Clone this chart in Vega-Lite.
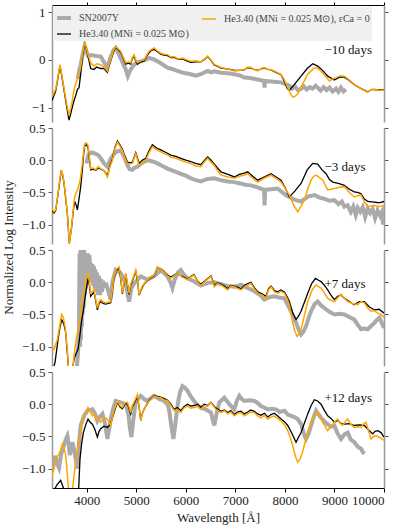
{
"$schema":"https://vega.github.io/schema/vega-lite/v6.json",
"padding":{"left":2,"top":1,"right":0,"bottom":4},
"config":{"font":"Liberation Serif","view":{"stroke":null},"axis":{"labelFontSize":13,"titleFontSize":13,"titleFontWeight":"normal","labelColor":"#222","titleColor":"#222","grid":false,"labelFont":"Liberation Serif","titleFont":"Liberation Serif"},"legend":{"labelFont":"Liberation Serif"}},
"datasets":{
"labels":[{"p":1,"w":8800,"v":0.21,"t":"−10 days"},{"p":2,"w":8800,"v":-0.11,"t":"−3 days"},{"p":3,"w":8800,"v":-0.02,"t":"+7 days"},{"p":4,"w":8800,"v":0.09,"t":"+12 days"}],
"spec":[
{"p":1,"s":"o","w":3300,"v":-0.78},{"p":1,"s":"o","w":3374,"v":-0.61},{"p":1,"s":"o","w":3420,"v":-0.35},{"p":1,"s":"o","w":3461,"v":-0.1},{"p":1,"s":"o","w":3508,"v":-0.37},{"p":1,"s":"o","w":3560,"v":-0.7},{"p":1,"s":"o","w":3596,"v":-0.92},{"p":1,"s":"o","w":3643,"v":-1.16},{"p":1,"s":"o","w":3680,"v":-1.0},{"p":1,"s":"o","w":3710,"v":-0.85},{"p":1,"s":"o","w":3745,"v":-0.62},{"p":1,"s":"o","w":3778,"v":-0.51},{"p":1,"s":"o","w":3830,"v":-0.35},{"p":1,"s":"o","w":3879,"v":-0.16},{"p":1,"s":"o","w":3920,"v":0.15},{"p":1,"s":"o","w":3960,"v":0.35},{"p":1,"s":"o","w":3990,"v":0.28},{"p":1,"s":"o","w":4027,"v":0.11},{"p":1,"s":"o","w":4081,"v":-0.06},{"p":1,"s":"o","w":4148,"v":-0.13},{"p":1,"s":"o","w":4200,"v":-0.08},{"p":1,"s":"o","w":4283,"v":-0.1},{"p":1,"s":"o","w":4350,"v":-0.15},{"p":1,"s":"o","w":4418,"v":-0.23},{"p":1,"s":"o","w":4450,"v":-0.1},{"p":1,"s":"o","w":4485,"v":0.0},{"p":1,"s":"o","w":4540,"v":0.2},{"p":1,"s":"o","w":4586,"v":0.28},{"p":1,"s":"o","w":4630,"v":0.24},{"p":1,"s":"o","w":4687,"v":0.18},{"p":1,"s":"o","w":4740,"v":0.05},{"p":1,"s":"o","w":4788,"v":-0.06},{"p":1,"s":"o","w":4840,"v":-0.04},{"p":1,"s":"o","w":4889,"v":-0.06},{"p":1,"s":"o","w":4920,"v":0.05},{"p":1,"s":"o","w":4956,"v":0.11},{"p":1,"s":"o","w":4990,"v":0.0},{"p":1,"s":"o","w":5024,"v":-0.06},{"p":1,"s":"o","w":5090,"v":-0.02},{"p":1,"s":"o","w":5158,"v":0.0},{"p":1,"s":"o","w":5210,"v":0.1},{"p":1,"s":"o","w":5259,"v":0.18},{"p":1,"s":"o","w":5310,"v":0.22},{"p":1,"s":"o","w":5360,"v":0.25},{"p":1,"s":"o","w":5430,"v":0.19},{"p":1,"s":"o","w":5495,"v":0.14},{"p":1,"s":"o","w":5560,"v":0.12},{"p":1,"s":"o","w":5630,"v":0.11},{"p":1,"s":"o","w":5700,"v":0.06},{"p":1,"s":"o","w":5764,"v":0.07},{"p":1,"s":"o","w":5850,"v":0.02},{"p":1,"s":"o","w":5933,"v":0.04},{"p":1,"s":"o","w":6020,"v":0.0},{"p":1,"s":"o","w":6101,"v":-0.03},{"p":1,"s":"o","w":6200,"v":-0.02},{"p":1,"s":"o","w":6303,"v":-0.04},{"p":1,"s":"o","w":6380,"v":0.02},{"p":1,"s":"o","w":6441,"v":0.08},{"p":1,"s":"o","w":6510,"v":0.0},{"p":1,"s":"o","w":6576,"v":-0.1},{"p":1,"s":"o","w":6640,"v":-0.12},{"p":1,"s":"o","w":6711,"v":-0.16},{"p":1,"s":"o","w":6850,"v":-0.19},{"p":1,"s":"o","w":6980,"v":-0.23},{"p":1,"s":"o","w":7080,"v":-0.22},{"p":1,"s":"o","w":7182,"v":-0.2},{"p":1,"s":"o","w":7250,"v":-0.15},{"p":1,"s":"o","w":7316,"v":-0.16},{"p":1,"s":"o","w":7380,"v":-0.2},{"p":1,"s":"o","w":7451,"v":-0.23},{"p":1,"s":"o","w":7520,"v":-0.18},{"p":1,"s":"o","w":7585,"v":-0.16},{"p":1,"s":"o","w":7650,"v":-0.2},{"p":1,"s":"o","w":7720,"v":-0.2},{"p":1,"s":"o","w":7820,"v":-0.25},{"p":1,"s":"o","w":7922,"v":-0.3},{"p":1,"s":"o","w":7990,"v":-0.42},{"p":1,"s":"o","w":8057,"v":-0.58},{"p":1,"s":"o","w":8110,"v":-0.7},{"p":1,"s":"o","w":8158,"v":-0.78},{"p":1,"s":"o","w":8210,"v":-0.76},{"p":1,"s":"o","w":8258,"v":-0.71},{"p":1,"s":"o","w":8320,"v":-0.58},{"p":1,"s":"o","w":8393,"v":-0.44},{"p":1,"s":"o","w":8460,"v":-0.3},{"p":1,"s":"o","w":8528,"v":-0.23},{"p":1,"s":"o","w":8580,"v":-0.18},{"p":1,"s":"o","w":8629,"v":-0.16},{"p":1,"s":"o","w":8680,"v":-0.2},{"p":1,"s":"o","w":8730,"v":-0.23},{"p":1,"s":"o","w":8810,"v":-0.33},{"p":1,"s":"o","w":8898,"v":-0.44},{"p":1,"s":"o","w":8960,"v":-0.4},{"p":1,"s":"o","w":9032,"v":-0.37},{"p":1,"s":"o","w":9120,"v":-0.33},{"p":1,"s":"o","w":9200,"v":-0.34},{"p":1,"s":"o","w":9300,"v":-0.42},{"p":1,"s":"o","w":9402,"v":-0.51},{"p":1,"s":"o","w":9540,"v":-0.6},{"p":1,"s":"o","w":9671,"v":-0.68},{"p":1,"s":"o","w":9740,"v":-0.62},{"p":1,"s":"o","w":9806,"v":-0.61},{"p":1,"s":"o","w":9900,"v":-0.64},{"p":1,"s":"o","w":10000,"v":-0.63},
{"p":1,"s":"b","w":3300,"v":-0.85},{"p":1,"s":"b","w":3374,"v":-0.65},{"p":1,"s":"b","w":3420,"v":-0.38},{"p":1,"s":"b","w":3461,"v":-0.12},{"p":1,"s":"b","w":3508,"v":-0.4},{"p":1,"s":"b","w":3560,"v":-0.75},{"p":1,"s":"b","w":3596,"v":-0.98},{"p":1,"s":"b","w":3643,"v":-1.26},{"p":1,"s":"b","w":3680,"v":-1.12},{"p":1,"s":"b","w":3710,"v":-0.99},{"p":1,"s":"b","w":3745,"v":-0.85},{"p":1,"s":"b","w":3778,"v":-0.75},{"p":1,"s":"b","w":3812,"v":-0.62},{"p":1,"s":"b","w":3845,"v":-0.58},{"p":1,"s":"b","w":3879,"v":-0.3},{"p":1,"s":"b","w":3920,"v":0.1},{"p":1,"s":"b","w":3960,"v":0.33},{"p":1,"s":"b","w":3990,"v":0.25},{"p":1,"s":"b","w":4027,"v":0.08},{"p":1,"s":"b","w":4081,"v":-0.18},{"p":1,"s":"b","w":4148,"v":-0.2},{"p":1,"s":"b","w":4200,"v":-0.15},{"p":1,"s":"b","w":4283,"v":-0.18},{"p":1,"s":"b","w":4350,"v":-0.18},{"p":1,"s":"b","w":4418,"v":-0.26},{"p":1,"s":"b","w":4450,"v":-0.12},{"p":1,"s":"b","w":4485,"v":-0.02},{"p":1,"s":"b","w":4540,"v":0.18},{"p":1,"s":"b","w":4586,"v":0.27},{"p":1,"s":"b","w":4630,"v":0.22},{"p":1,"s":"b","w":4687,"v":0.16},{"p":1,"s":"b","w":4740,"v":0.03},{"p":1,"s":"b","w":4788,"v":-0.09},{"p":1,"s":"b","w":4840,"v":-0.07},{"p":1,"s":"b","w":4889,"v":-0.09},{"p":1,"s":"b","w":4920,"v":0.03},{"p":1,"s":"b","w":4956,"v":0.08},{"p":1,"s":"b","w":4990,"v":-0.02},{"p":1,"s":"b","w":5024,"v":-0.09},{"p":1,"s":"b","w":5090,"v":-0.04},{"p":1,"s":"b","w":5158,"v":-0.02},{"p":1,"s":"b","w":5210,"v":0.08},{"p":1,"s":"b","w":5259,"v":0.15},{"p":1,"s":"b","w":5310,"v":0.2},{"p":1,"s":"b","w":5360,"v":0.22},{"p":1,"s":"b","w":5430,"v":0.17},{"p":1,"s":"b","w":5495,"v":0.12},{"p":1,"s":"b","w":5560,"v":0.1},{"p":1,"s":"b","w":5630,"v":0.09},{"p":1,"s":"b","w":5700,"v":0.05},{"p":1,"s":"b","w":5764,"v":0.05},{"p":1,"s":"b","w":5850,"v":0.01},{"p":1,"s":"b","w":5933,"v":0.02},{"p":1,"s":"b","w":6020,"v":-0.02},{"p":1,"s":"b","w":6101,"v":-0.05},{"p":1,"s":"b","w":6200,"v":-0.04},{"p":1,"s":"b","w":6303,"v":-0.04},{"p":1,"s":"b","w":6380,"v":0.01},{"p":1,"s":"b","w":6441,"v":0.07},{"p":1,"s":"b","w":6510,"v":-0.01},{"p":1,"s":"b","w":6576,"v":-0.11},{"p":1,"s":"b","w":6640,"v":-0.13},{"p":1,"s":"b","w":6711,"v":-0.17},{"p":1,"s":"b","w":6850,"v":-0.19},{"p":1,"s":"b","w":6980,"v":-0.22},{"p":1,"s":"b","w":7080,"v":-0.22},{"p":1,"s":"b","w":7182,"v":-0.21},{"p":1,"s":"b","w":7250,"v":-0.16},{"p":1,"s":"b","w":7316,"v":-0.17},{"p":1,"s":"b","w":7380,"v":-0.2},{"p":1,"s":"b","w":7451,"v":-0.22},{"p":1,"s":"b","w":7520,"v":-0.19},{"p":1,"s":"b","w":7585,"v":-0.17},{"p":1,"s":"b","w":7650,"v":-0.2},{"p":1,"s":"b","w":7720,"v":-0.21},{"p":1,"s":"b","w":7820,"v":-0.26},{"p":1,"s":"b","w":7922,"v":-0.31},{"p":1,"s":"b","w":7990,"v":-0.45},{"p":1,"s":"b","w":8050,"v":-0.6},{"p":1,"s":"b","w":8090,"v":-0.64},{"p":1,"s":"b","w":8200,"v":-0.5},{"p":1,"s":"b","w":8326,"v":-0.34},{"p":1,"s":"b","w":8450,"v":-0.18},{"p":1,"s":"b","w":8562,"v":-0.08},{"p":1,"s":"b","w":8662,"v":-0.13},{"p":1,"s":"b","w":8760,"v":-0.22},{"p":1,"s":"b","w":8864,"v":-0.34},{"p":1,"s":"b","w":8999,"v":-0.42},{"p":1,"s":"b","w":9100,"v":-0.36},{"p":1,"s":"b","w":9200,"v":-0.36},{"p":1,"s":"b","w":9300,"v":-0.43},{"p":1,"s":"b","w":9402,"v":-0.52},{"p":1,"s":"b","w":9540,"v":-0.6},{"p":1,"s":"b","w":9671,"v":-0.67},{"p":1,"s":"b","w":9740,"v":-0.62},{"p":1,"s":"b","w":9806,"v":-0.62},{"p":1,"s":"b","w":9900,"v":-0.63},{"p":1,"s":"b","w":10000,"v":-0.62},
{"p":1,"s":"g","w":3820,"v":-0.4},{"p":1,"s":"g","w":3850,"v":-0.22},{"p":1,"s":"g","w":3880,"v":-0.1},{"p":1,"s":"g","w":3920,"v":0.12},{"p":1,"s":"g","w":3960,"v":0.3},{"p":1,"s":"g","w":3995,"v":0.18},{"p":1,"s":"g","w":4030,"v":0.08},{"p":1,"s":"g","w":4100,"v":0.1},{"p":1,"s":"g","w":4200,"v":0.08},{"p":1,"s":"g","w":4283,"v":0.07},{"p":1,"s":"g","w":4350,"v":-0.05},{"p":1,"s":"g","w":4418,"v":-0.16},{"p":1,"s":"g","w":4450,"v":-0.05},{"p":1,"s":"g","w":4480,"v":0.05},{"p":1,"s":"g","w":4540,"v":0.2},{"p":1,"s":"g","w":4586,"v":0.25},{"p":1,"s":"g","w":4650,"v":0.12},{"p":1,"s":"g","w":4720,"v":-0.05},{"p":1,"s":"g","w":4788,"v":-0.2},{"p":1,"s":"g","w":4830,"v":-0.34},{"p":1,"s":"g","w":4860,"v":-0.26},{"p":1,"s":"g","w":4889,"v":-0.2},{"p":1,"s":"g","w":4956,"v":-0.1},{"p":1,"s":"g","w":5030,"v":-0.05},{"p":1,"s":"g","w":5100,"v":-0.03},{"p":1,"s":"g","w":5180,"v":0.0},{"p":1,"s":"g","w":5259,"v":0.04},{"p":1,"s":"g","w":5360,"v":0.01},{"p":1,"s":"g","w":5495,"v":-0.07},{"p":1,"s":"g","w":5630,"v":-0.16},{"p":1,"s":"g","w":5720,"v":-0.19},{"p":1,"s":"g","w":5800,"v":-0.22},{"p":1,"s":"g","w":5950,"v":-0.27},{"p":1,"s":"g","w":6101,"v":-0.3},{"p":1,"s":"g","w":6200,"v":-0.33},{"p":1,"s":"g","w":6303,"v":-0.3},{"p":1,"s":"g","w":6441,"v":-0.23},{"p":1,"s":"g","w":6510,"v":-0.26},{"p":1,"s":"g","w":6576,"v":-0.24},{"p":1,"s":"g","w":6711,"v":-0.27},{"p":1,"s":"g","w":6850,"v":-0.28},{"p":1,"s":"g","w":6980,"v":-0.3},{"p":1,"s":"g","w":7100,"v":-0.33},{"p":1,"s":"g","w":7182,"v":-0.37},{"p":1,"s":"g","w":7300,"v":-0.38},{"p":1,"s":"g","w":7400,"v":-0.4},{"p":1,"s":"g","w":7500,"v":-0.42},{"p":1,"s":"g","w":7580,"v":-0.44},{"p":1,"s":"g","w":7590,"v":-0.58},{"p":1,"s":"g","w":7600,"v":-0.44},{"p":1,"s":"g","w":7720,"v":-0.45},{"p":1,"s":"g","w":7820,"v":-0.46},{"p":1,"s":"g","w":7922,"v":-0.47},{"p":1,"s":"g","w":8000,"v":-0.5},{"p":1,"s":"g","w":8090,"v":-0.54},{"p":1,"s":"g","w":8150,"v":-0.6},{"p":1,"s":"g","w":8200,"v":-0.55},{"p":1,"s":"g","w":8260,"v":-0.63},{"p":1,"s":"g","w":8326,"v":-0.61},{"p":1,"s":"g","w":8380,"v":-0.55},{"p":1,"s":"g","w":8440,"v":-0.62},{"p":1,"s":"g","w":8500,"v":-0.57},{"p":1,"s":"g","w":8560,"v":-0.6},{"p":1,"s":"g","w":8620,"v":-0.54},{"p":1,"s":"g","w":8662,"v":-0.58},{"p":1,"s":"g","w":8720,"v":-0.64},{"p":1,"s":"g","w":8780,"v":-0.57},{"p":1,"s":"g","w":8840,"v":-0.63},{"p":1,"s":"g","w":8900,"v":-0.58},{"p":1,"s":"g","w":8960,"v":-0.66},{"p":1,"s":"g","w":9032,"v":-0.6},{"p":1,"s":"g","w":9080,"v":-0.67},{"p":1,"s":"g","w":9130,"v":-0.58},{"p":1,"s":"g","w":9180,"v":-0.66},{"p":1,"s":"g","w":9234,"v":-0.62},
{"p":2,"s":"o","w":3300,"v":-0.75},{"p":2,"s":"o","w":3340,"v":-0.8},{"p":2,"s":"o","w":3374,"v":-0.77},{"p":2,"s":"o","w":3421,"v":-0.52},{"p":2,"s":"o","w":3460,"v":-0.28},{"p":2,"s":"o","w":3488,"v":-0.15},{"p":2,"s":"o","w":3515,"v":-0.22},{"p":2,"s":"o","w":3542,"v":-0.34},{"p":2,"s":"o","w":3580,"v":-0.6},{"p":2,"s":"o","w":3610,"v":-0.82},{"p":2,"s":"o","w":3650,"v":-1.29},{"p":2,"s":"o","w":3697,"v":-1.03},{"p":2,"s":"o","w":3730,"v":-0.75},{"p":2,"s":"o","w":3758,"v":-0.57},{"p":2,"s":"o","w":3790,"v":-0.5},{"p":2,"s":"o","w":3825,"v":-0.44},{"p":2,"s":"o","w":3870,"v":-0.3},{"p":2,"s":"o","w":3912,"v":-0.05},{"p":2,"s":"o","w":3940,"v":0.15},{"p":2,"s":"o","w":3960,"v":0.26},{"p":2,"s":"o","w":3995,"v":0.27},{"p":2,"s":"o","w":4027,"v":0.23},{"p":2,"s":"o","w":4055,"v":0.05},{"p":2,"s":"o","w":4081,"v":-0.13},{"p":2,"s":"o","w":4130,"v":-0.12},{"p":2,"s":"o","w":4182,"v":-0.15},{"p":2,"s":"o","w":4230,"v":-0.1},{"p":2,"s":"o","w":4283,"v":-0.13},{"p":2,"s":"o","w":4350,"v":-0.16},{"p":2,"s":"o","w":4418,"v":-0.26},{"p":2,"s":"o","w":4470,"v":-0.1},{"p":2,"s":"o","w":4519,"v":0.0},{"p":2,"s":"o","w":4570,"v":0.18},{"p":2,"s":"o","w":4620,"v":0.28},{"p":2,"s":"o","w":4670,"v":0.22},{"p":2,"s":"o","w":4721,"v":0.15},{"p":2,"s":"o","w":4770,"v":0.04},{"p":2,"s":"o","w":4822,"v":-0.05},{"p":2,"s":"o","w":4870,"v":-0.06},{"p":2,"s":"o","w":4923,"v":-0.05},{"p":2,"s":"o","w":4990,"v":0.1},{"p":2,"s":"o","w":5057,"v":-0.08},{"p":2,"s":"o","w":5120,"v":-0.03},{"p":2,"s":"o","w":5192,"v":0.0},{"p":2,"s":"o","w":5260,"v":0.12},{"p":2,"s":"o","w":5326,"v":0.21},{"p":2,"s":"o","w":5410,"v":0.16},{"p":2,"s":"o","w":5495,"v":0.13},{"p":2,"s":"o","w":5600,"v":0.09},{"p":2,"s":"o","w":5697,"v":0.05},{"p":2,"s":"o","w":5800,"v":0.03},{"p":2,"s":"o","w":5899,"v":0.0},{"p":2,"s":"o","w":6000,"v":-0.03},{"p":2,"s":"o","w":6101,"v":-0.05},{"p":2,"s":"o","w":6200,"v":-0.09},{"p":2,"s":"o","w":6303,"v":-0.1},{"p":2,"s":"o","w":6380,"v":-0.02},{"p":2,"s":"o","w":6441,"v":0.03},{"p":2,"s":"o","w":6510,"v":-0.03},{"p":2,"s":"o","w":6576,"v":-0.08},{"p":2,"s":"o","w":6640,"v":-0.16},{"p":2,"s":"o","w":6711,"v":-0.23},{"p":2,"s":"o","w":6850,"v":-0.26},{"p":2,"s":"o","w":6980,"v":-0.28},{"p":2,"s":"o","w":7080,"v":-0.25},{"p":2,"s":"o","w":7182,"v":-0.23},{"p":2,"s":"o","w":7249,"v":-0.21},{"p":2,"s":"o","w":7350,"v":-0.28},{"p":2,"s":"o","w":7451,"v":-0.34},{"p":2,"s":"o","w":7580,"v":-0.28},{"p":2,"s":"o","w":7720,"v":-0.23},{"p":2,"s":"o","w":7820,"v":-0.28},{"p":2,"s":"o","w":7922,"v":-0.34},{"p":2,"s":"o","w":8000,"v":-0.43},{"p":2,"s":"o","w":8090,"v":-0.54},{"p":2,"s":"o","w":8180,"v":-0.7},{"p":2,"s":"o","w":8258,"v":-0.8},{"p":2,"s":"o","w":8320,"v":-0.72},{"p":2,"s":"o","w":8393,"v":-0.62},{"p":2,"s":"o","w":8460,"v":-0.45},{"p":2,"s":"o","w":8528,"v":-0.31},{"p":2,"s":"o","w":8580,"v":-0.25},{"p":2,"s":"o","w":8629,"v":-0.23},{"p":2,"s":"o","w":8700,"v":-0.27},{"p":2,"s":"o","w":8764,"v":-0.31},{"p":2,"s":"o","w":8864,"v":-0.46},{"p":2,"s":"o","w":8930,"v":-0.45},{"p":2,"s":"o","w":8999,"v":-0.44},{"p":2,"s":"o","w":9100,"v":-0.42},{"p":2,"s":"o","w":9200,"v":-0.41},{"p":2,"s":"o","w":9300,"v":-0.5},{"p":2,"s":"o","w":9402,"v":-0.57},{"p":2,"s":"o","w":9470,"v":-0.55},{"p":2,"s":"o","w":9537,"v":-0.54},{"p":2,"s":"o","w":9600,"v":-0.64},{"p":2,"s":"o","w":9671,"v":-0.72},{"p":2,"s":"o","w":9800,"v":-0.7},{"p":2,"s":"o","w":9900,"v":-0.72},{"p":2,"s":"o","w":10000,"v":-0.7},
{"p":2,"s":"b","w":3300,"v":-0.78},{"p":2,"s":"b","w":3340,"v":-0.82},{"p":2,"s":"b","w":3374,"v":-0.78},{"p":2,"s":"b","w":3421,"v":-0.53},{"p":2,"s":"b","w":3460,"v":-0.3},{"p":2,"s":"b","w":3488,"v":-0.16},{"p":2,"s":"b","w":3515,"v":-0.23},{"p":2,"s":"b","w":3542,"v":-0.35},{"p":2,"s":"b","w":3580,"v":-0.62},{"p":2,"s":"b","w":3610,"v":-0.83},{"p":2,"s":"b","w":3650,"v":-1.29},{"p":2,"s":"b","w":3697,"v":-1.03},{"p":2,"s":"b","w":3730,"v":-0.78},{"p":2,"s":"b","w":3758,"v":-0.64},{"p":2,"s":"b","w":3790,"v":-0.7},{"p":2,"s":"b","w":3812,"v":-0.77},{"p":2,"s":"b","w":3845,"v":-0.6},{"p":2,"s":"b","w":3879,"v":-0.41},{"p":2,"s":"b","w":3912,"v":-0.15},{"p":2,"s":"b","w":3940,"v":0.1},{"p":2,"s":"b","w":3960,"v":0.22},{"p":2,"s":"b","w":3995,"v":0.24},{"p":2,"s":"b","w":4027,"v":0.2},{"p":2,"s":"b","w":4055,"v":0.02},{"p":2,"s":"b","w":4081,"v":-0.15},{"p":2,"s":"b","w":4130,"v":-0.14},{"p":2,"s":"b","w":4182,"v":-0.16},{"p":2,"s":"b","w":4230,"v":-0.12},{"p":2,"s":"b","w":4283,"v":-0.14},{"p":2,"s":"b","w":4350,"v":-0.16},{"p":2,"s":"b","w":4418,"v":-0.24},{"p":2,"s":"b","w":4470,"v":-0.08},{"p":2,"s":"b","w":4519,"v":0.02},{"p":2,"s":"b","w":4570,"v":0.2},{"p":2,"s":"b","w":4620,"v":0.3},{"p":2,"s":"b","w":4670,"v":0.24},{"p":2,"s":"b","w":4721,"v":0.17},{"p":2,"s":"b","w":4770,"v":0.06},{"p":2,"s":"b","w":4822,"v":-0.03},{"p":2,"s":"b","w":4870,"v":-0.04},{"p":2,"s":"b","w":4923,"v":-0.03},{"p":2,"s":"b","w":4990,"v":0.12},{"p":2,"s":"b","w":5057,"v":-0.05},{"p":2,"s":"b","w":5120,"v":0.0},{"p":2,"s":"b","w":5192,"v":0.03},{"p":2,"s":"b","w":5260,"v":0.15},{"p":2,"s":"b","w":5326,"v":0.24},{"p":2,"s":"b","w":5410,"v":0.19},{"p":2,"s":"b","w":5495,"v":0.16},{"p":2,"s":"b","w":5600,"v":0.12},{"p":2,"s":"b","w":5697,"v":0.08},{"p":2,"s":"b","w":5800,"v":0.06},{"p":2,"s":"b","w":5899,"v":0.03},{"p":2,"s":"b","w":6000,"v":0.0},{"p":2,"s":"b","w":6101,"v":-0.02},{"p":2,"s":"b","w":6200,"v":-0.05},{"p":2,"s":"b","w":6303,"v":-0.07},{"p":2,"s":"b","w":6380,"v":0.0},{"p":2,"s":"b","w":6441,"v":0.05},{"p":2,"s":"b","w":6510,"v":0.0},{"p":2,"s":"b","w":6576,"v":-0.06},{"p":2,"s":"b","w":6640,"v":-0.12},{"p":2,"s":"b","w":6711,"v":-0.18},{"p":2,"s":"b","w":6850,"v":-0.22},{"p":2,"s":"b","w":6980,"v":-0.26},{"p":2,"s":"b","w":7080,"v":-0.22},{"p":2,"s":"b","w":7182,"v":-0.2},{"p":2,"s":"b","w":7249,"v":-0.18},{"p":2,"s":"b","w":7350,"v":-0.25},{"p":2,"s":"b","w":7451,"v":-0.31},{"p":2,"s":"b","w":7580,"v":-0.26},{"p":2,"s":"b","w":7720,"v":-0.21},{"p":2,"s":"b","w":7820,"v":-0.26},{"p":2,"s":"b","w":7922,"v":-0.31},{"p":2,"s":"b","w":8000,"v":-0.42},{"p":2,"s":"b","w":8090,"v":-0.57},{"p":2,"s":"b","w":8200,"v":-0.48},{"p":2,"s":"b","w":8326,"v":-0.36},{"p":2,"s":"b","w":8450,"v":-0.15},{"p":2,"s":"b","w":8562,"v":-0.05},{"p":2,"s":"b","w":8662,"v":-0.06},{"p":2,"s":"b","w":8750,"v":-0.15},{"p":2,"s":"b","w":8831,"v":-0.21},{"p":2,"s":"b","w":8900,"v":-0.3},{"p":2,"s":"b","w":8966,"v":-0.34},{"p":2,"s":"b","w":9080,"v":-0.36},{"p":2,"s":"b","w":9200,"v":-0.39},{"p":2,"s":"b","w":9300,"v":-0.45},{"p":2,"s":"b","w":9402,"v":-0.49},{"p":2,"s":"b","w":9470,"v":-0.5},{"p":2,"s":"b","w":9537,"v":-0.52},{"p":2,"s":"b","w":9600,"v":-0.6},{"p":2,"s":"b","w":9671,"v":-0.64},{"p":2,"s":"b","w":9800,"v":-0.65},{"p":2,"s":"b","w":9900,"v":-0.66},{"p":2,"s":"b","w":10000,"v":-0.64},
{"p":2,"s":"g","w":4000,"v":-0.05},{"p":2,"s":"g","w":4020,"v":0.05},{"p":2,"s":"g","w":4045,"v":0.1},{"p":2,"s":"g","w":4110,"v":0.12},{"p":2,"s":"g","w":4182,"v":0.1},{"p":2,"s":"g","w":4230,"v":0.08},{"p":2,"s":"g","w":4283,"v":0.03},{"p":2,"s":"g","w":4350,"v":-0.05},{"p":2,"s":"g","w":4418,"v":-0.1},{"p":2,"s":"g","w":4480,"v":0.02},{"p":2,"s":"g","w":4553,"v":0.1},{"p":2,"s":"g","w":4620,"v":0.14},{"p":2,"s":"g","w":4687,"v":0.15},{"p":2,"s":"g","w":4760,"v":0.05},{"p":2,"s":"g","w":4822,"v":-0.08},{"p":2,"s":"g","w":4870,"v":-0.14},{"p":2,"s":"g","w":4923,"v":-0.15},{"p":2,"s":"g","w":4960,"v":-0.12},{"p":2,"s":"g","w":5024,"v":-0.1},{"p":2,"s":"g","w":5120,"v":-0.04},{"p":2,"s":"g","w":5226,"v":0.0},{"p":2,"s":"g","w":5330,"v":-0.02},{"p":2,"s":"g","w":5428,"v":-0.05},{"p":2,"s":"g","w":5530,"v":-0.09},{"p":2,"s":"g","w":5630,"v":-0.13},{"p":2,"s":"g","w":5760,"v":-0.17},{"p":2,"s":"g","w":5899,"v":-0.21},{"p":2,"s":"g","w":6000,"v":-0.24},{"p":2,"s":"g","w":6101,"v":-0.28},{"p":2,"s":"g","w":6200,"v":-0.31},{"p":2,"s":"g","w":6303,"v":-0.33},{"p":2,"s":"g","w":6441,"v":-0.29},{"p":2,"s":"g","w":6576,"v":-0.28},{"p":2,"s":"g","w":6711,"v":-0.31},{"p":2,"s":"g","w":6850,"v":-0.33},{"p":2,"s":"g","w":6980,"v":-0.34},{"p":2,"s":"g","w":7100,"v":-0.36},{"p":2,"s":"g","w":7200,"v":-0.38},{"p":2,"s":"g","w":7316,"v":-0.39},{"p":2,"s":"g","w":7450,"v":-0.42},{"p":2,"s":"g","w":7580,"v":-0.46},{"p":2,"s":"g","w":7590,"v":-0.7},{"p":2,"s":"g","w":7600,"v":-0.46},{"p":2,"s":"g","w":7720,"v":-0.45},{"p":2,"s":"g","w":7855,"v":-0.44},{"p":2,"s":"g","w":7950,"v":-0.5},{"p":2,"s":"g","w":8020,"v":-0.54},{"p":2,"s":"g","w":8090,"v":-0.57},{"p":2,"s":"g","w":8160,"v":-0.6},{"p":2,"s":"g","w":8225,"v":-0.62},{"p":2,"s":"g","w":8326,"v":-0.64},{"p":2,"s":"g","w":8400,"v":-0.6},{"p":2,"s":"g","w":8480,"v":-0.56},{"p":2,"s":"g","w":8595,"v":-0.54},{"p":2,"s":"g","w":8700,"v":-0.58},{"p":2,"s":"g","w":8800,"v":-0.6},{"p":2,"s":"g","w":8900,"v":-0.63},{"p":2,"s":"g","w":8999,"v":-0.62},{"p":2,"s":"g","w":9080,"v":-0.68},{"p":2,"s":"g","w":9150,"v":-0.64},{"p":2,"s":"g","w":9200,"v":-0.72},{"p":2,"s":"g","w":9267,"v":-0.7},{"p":2,"s":"g","w":9330,"v":-0.8},{"p":2,"s":"g","w":9380,"v":-0.72},{"p":2,"s":"g","w":9430,"v":-0.85},{"p":2,"s":"g","w":9470,"v":-0.74},{"p":2,"s":"g","w":9520,"v":-0.8},{"p":2,"s":"g","w":9570,"v":-0.73},{"p":2,"s":"g","w":9620,"v":-0.88},{"p":2,"s":"g","w":9671,"v":-0.75},{"p":2,"s":"g","w":9720,"v":-0.82},{"p":2,"s":"g","w":9770,"v":-0.76},{"p":2,"s":"g","w":9820,"v":-0.9},{"p":2,"s":"g","w":9870,"v":-0.78},{"p":2,"s":"g","w":9920,"v":-0.86},{"p":2,"s":"g","w":9960,"v":-0.8},{"p":2,"s":"g","w":9980,"v":-1.0},{"p":2,"s":"g","w":10000,"v":-0.82},
{"p":3,"s":"o","w":3300,"v":-0.99},{"p":3,"s":"o","w":3340,"v":-1.04},{"p":3,"s":"o","w":3408,"v":-0.89},{"p":3,"s":"o","w":3450,"v":-0.7},{"p":3,"s":"o","w":3495,"v":-0.5},{"p":3,"s":"o","w":3530,"v":-0.55},{"p":3,"s":"o","w":3562,"v":-0.68},{"p":3,"s":"o","w":3610,"v":-1.04},{"p":3,"s":"o","w":3643,"v":-1.45},{"p":3,"s":"o","w":3710,"v":-1.4},{"p":3,"s":"o","w":3745,"v":-1.15},{"p":3,"s":"o","w":3778,"v":-0.94},{"p":3,"s":"o","w":3820,"v":-0.75},{"p":3,"s":"o","w":3865,"v":-0.58},{"p":3,"s":"o","w":3912,"v":-0.27},{"p":3,"s":"o","w":3980,"v":0.01},{"p":3,"s":"o","w":4027,"v":0.14},{"p":3,"s":"o","w":4055,"v":0.0},{"p":3,"s":"o","w":4081,"v":-0.17},{"p":3,"s":"o","w":4148,"v":-0.12},{"p":3,"s":"o","w":4216,"v":-0.4},{"p":3,"s":"o","w":4250,"v":-0.3},{"p":3,"s":"o","w":4283,"v":-0.27},{"p":3,"s":"o","w":4330,"v":-0.3},{"p":3,"s":"o","w":4384,"v":-0.32},{"p":3,"s":"o","w":4485,"v":-0.3},{"p":3,"s":"o","w":4520,"v":-0.1},{"p":3,"s":"o","w":4553,"v":0.09},{"p":3,"s":"o","w":4600,"v":0.2},{"p":3,"s":"o","w":4654,"v":0.24},{"p":3,"s":"o","w":4690,"v":0.05},{"p":3,"s":"o","w":4721,"v":-0.17},{"p":3,"s":"o","w":4755,"v":0.0},{"p":3,"s":"o","w":4788,"v":0.14},{"p":3,"s":"o","w":4820,"v":0.0},{"p":3,"s":"o","w":4856,"v":-0.17},{"p":3,"s":"o","w":4890,"v":-0.02},{"p":3,"s":"o","w":4923,"v":0.04},{"p":3,"s":"o","w":4990,"v":0.19},{"p":3,"s":"o","w":5024,"v":0.05},{"p":3,"s":"o","w":5057,"v":-0.19},{"p":3,"s":"o","w":5110,"v":-0.08},{"p":3,"s":"o","w":5158,"v":-0.02},{"p":3,"s":"o","w":5259,"v":0.06},{"p":3,"s":"o","w":5360,"v":0.11},{"p":3,"s":"o","w":5428,"v":0.24},{"p":3,"s":"o","w":5490,"v":0.2},{"p":3,"s":"o","w":5562,"v":0.16},{"p":3,"s":"o","w":5630,"v":0.1},{"p":3,"s":"o","w":5697,"v":0.06},{"p":3,"s":"o","w":5764,"v":0.1},{"p":3,"s":"o","w":5832,"v":0.14},{"p":3,"s":"o","w":5930,"v":0.08},{"p":3,"s":"o","w":6034,"v":0.04},{"p":3,"s":"o","w":6100,"v":0.08},{"p":3,"s":"o","w":6168,"v":0.11},{"p":3,"s":"o","w":6240,"v":0.0},{"p":3,"s":"o","w":6303,"v":-0.05},{"p":3,"s":"o","w":6400,"v":0.02},{"p":3,"s":"o","w":6509,"v":0.09},{"p":3,"s":"o","w":6576,"v":-0.07},{"p":3,"s":"o","w":6640,"v":-0.02},{"p":3,"s":"o","w":6711,"v":-0.04},{"p":3,"s":"o","w":6780,"v":-0.08},{"p":3,"s":"o","w":6845,"v":-0.12},{"p":3,"s":"o","w":6910,"v":-0.06},{"p":3,"s":"o","w":6980,"v":-0.07},{"p":3,"s":"o","w":7050,"v":-0.1},{"p":3,"s":"o","w":7115,"v":-0.12},{"p":3,"s":"o","w":7200,"v":-0.06},{"p":3,"s":"o","w":7316,"v":-0.02},{"p":3,"s":"o","w":7380,"v":-0.1},{"p":3,"s":"o","w":7451,"v":-0.17},{"p":3,"s":"o","w":7540,"v":-0.2},{"p":3,"s":"o","w":7619,"v":-0.25},{"p":3,"s":"o","w":7670,"v":-0.12},{"p":3,"s":"o","w":7720,"v":-0.07},{"p":3,"s":"o","w":7790,"v":-0.15},{"p":3,"s":"o","w":7855,"v":-0.17},{"p":3,"s":"o","w":7920,"v":-0.14},{"p":3,"s":"o","w":7990,"v":-0.17},{"p":3,"s":"o","w":8040,"v":-0.25},{"p":3,"s":"o","w":8090,"v":-0.35},{"p":3,"s":"o","w":8158,"v":-0.63},{"p":3,"s":"o","w":8200,"v":-0.76},{"p":3,"s":"o","w":8245,"v":-0.84},{"p":3,"s":"o","w":8290,"v":-0.8},{"p":3,"s":"o","w":8326,"v":-0.73},{"p":3,"s":"o","w":8400,"v":-0.5},{"p":3,"s":"o","w":8461,"v":-0.3},{"p":3,"s":"o","w":8550,"v":-0.12},{"p":3,"s":"o","w":8629,"v":-0.04},{"p":3,"s":"o","w":8680,"v":-0.07},{"p":3,"s":"o","w":8730,"v":-0.09},{"p":3,"s":"o","w":8800,"v":-0.17},{"p":3,"s":"o","w":8864,"v":-0.25},{"p":3,"s":"o","w":8930,"v":-0.28},{"p":3,"s":"o","w":8999,"v":-0.3},{"p":3,"s":"o","w":9066,"v":-0.24},{"p":3,"s":"o","w":9133,"v":-0.19},{"p":3,"s":"o","w":9200,"v":-0.25},{"p":3,"s":"o","w":9267,"v":-0.3},{"p":3,"s":"o","w":9360,"v":-0.33},{"p":3,"s":"o","w":9469,"v":-0.35},{"p":3,"s":"o","w":9540,"v":-0.3},{"p":3,"s":"o","w":9604,"v":-0.32},{"p":3,"s":"o","w":9670,"v":-0.4},{"p":3,"s":"o","w":9739,"v":-0.45},{"p":3,"s":"o","w":9800,"v":-0.44},{"p":3,"s":"o","w":9873,"v":-0.48},{"p":3,"s":"o","w":9940,"v":-0.5},{"p":3,"s":"o","w":10000,"v":-0.55},
{"p":3,"s":"b","w":3300,"v":-1.4},{"p":3,"s":"b","w":3360,"v":-1.25},{"p":3,"s":"b","w":3420,"v":-0.9},{"p":3,"s":"b","w":3460,"v":-0.7},{"p":3,"s":"b","w":3495,"v":-0.58},{"p":3,"s":"b","w":3540,"v":-0.65},{"p":3,"s":"b","w":3576,"v":-0.78},{"p":3,"s":"b","w":3610,"v":-1.1},{"p":3,"s":"b","w":3643,"v":-1.45},{"p":3,"s":"b","w":3700,"v":-1.4},{"p":3,"s":"b","w":3744,"v":-1.2},{"p":3,"s":"b","w":3790,"v":-1.1},{"p":3,"s":"b","w":3825,"v":-1.04},{"p":3,"s":"b","w":3860,"v":-0.85},{"p":3,"s":"b","w":3892,"v":-0.63},{"p":3,"s":"b","w":3940,"v":-0.4},{"p":3,"s":"b","w":3980,"v":-0.17},{"p":3,"s":"b","w":4027,"v":0.06},{"p":3,"s":"b","w":4055,"v":-0.05},{"p":3,"s":"b","w":4081,"v":-0.22},{"p":3,"s":"b","w":4148,"v":-0.15},{"p":3,"s":"b","w":4216,"v":-0.43},{"p":3,"s":"b","w":4250,"v":-0.33},{"p":3,"s":"b","w":4283,"v":-0.3},{"p":3,"s":"b","w":4330,"v":-0.33},{"p":3,"s":"b","w":4384,"v":-0.34},{"p":3,"s":"b","w":4485,"v":-0.32},{"p":3,"s":"b","w":4520,"v":-0.12},{"p":3,"s":"b","w":4553,"v":0.07},{"p":3,"s":"b","w":4600,"v":0.18},{"p":3,"s":"b","w":4654,"v":0.22},{"p":3,"s":"b","w":4690,"v":0.03},{"p":3,"s":"b","w":4721,"v":-0.18},{"p":3,"s":"b","w":4755,"v":-0.02},{"p":3,"s":"b","w":4788,"v":0.12},{"p":3,"s":"b","w":4820,"v":-0.02},{"p":3,"s":"b","w":4856,"v":-0.19},{"p":3,"s":"b","w":4890,"v":-0.04},{"p":3,"s":"b","w":4923,"v":0.02},{"p":3,"s":"b","w":4990,"v":0.17},{"p":3,"s":"b","w":5024,"v":0.03},{"p":3,"s":"b","w":5057,"v":-0.2},{"p":3,"s":"b","w":5110,"v":-0.1},{"p":3,"s":"b","w":5158,"v":-0.03},{"p":3,"s":"b","w":5259,"v":0.05},{"p":3,"s":"b","w":5360,"v":0.1},{"p":3,"s":"b","w":5428,"v":0.23},{"p":3,"s":"b","w":5490,"v":0.2},{"p":3,"s":"b","w":5562,"v":0.17},{"p":3,"s":"b","w":5630,"v":0.11},{"p":3,"s":"b","w":5697,"v":0.08},{"p":3,"s":"b","w":5764,"v":0.11},{"p":3,"s":"b","w":5832,"v":0.14},{"p":3,"s":"b","w":5930,"v":0.09},{"p":3,"s":"b","w":6034,"v":0.05},{"p":3,"s":"b","w":6100,"v":0.09},{"p":3,"s":"b","w":6168,"v":0.12},{"p":3,"s":"b","w":6240,"v":0.01},{"p":3,"s":"b","w":6303,"v":-0.03},{"p":3,"s":"b","w":6400,"v":0.03},{"p":3,"s":"b","w":6509,"v":0.1},{"p":3,"s":"b","w":6576,"v":-0.05},{"p":3,"s":"b","w":6640,"v":-0.01},{"p":3,"s":"b","w":6711,"v":-0.03},{"p":3,"s":"b","w":6780,"v":-0.06},{"p":3,"s":"b","w":6845,"v":-0.1},{"p":3,"s":"b","w":6910,"v":-0.05},{"p":3,"s":"b","w":6980,"v":-0.06},{"p":3,"s":"b","w":7050,"v":-0.08},{"p":3,"s":"b","w":7115,"v":-0.1},{"p":3,"s":"b","w":7200,"v":-0.04},{"p":3,"s":"b","w":7316,"v":0.0},{"p":3,"s":"b","w":7380,"v":-0.08},{"p":3,"s":"b","w":7451,"v":-0.15},{"p":3,"s":"b","w":7540,"v":-0.18},{"p":3,"s":"b","w":7619,"v":-0.22},{"p":3,"s":"b","w":7670,"v":-0.1},{"p":3,"s":"b","w":7720,"v":-0.06},{"p":3,"s":"b","w":7790,"v":-0.13},{"p":3,"s":"b","w":7855,"v":-0.15},{"p":3,"s":"b","w":7920,"v":-0.12},{"p":3,"s":"b","w":7990,"v":-0.15},{"p":3,"s":"b","w":8040,"v":-0.22},{"p":3,"s":"b","w":8090,"v":-0.3},{"p":3,"s":"b","w":8160,"v":-0.48},{"p":3,"s":"b","w":8225,"v":-0.58},{"p":3,"s":"b","w":8280,"v":-0.52},{"p":3,"s":"b","w":8326,"v":-0.45},{"p":3,"s":"b","w":8400,"v":-0.3},{"p":3,"s":"b","w":8461,"v":-0.17},{"p":3,"s":"b","w":8540,"v":-0.02},{"p":3,"s":"b","w":8616,"v":0.06},{"p":3,"s":"b","w":8680,"v":0.03},{"p":3,"s":"b","w":8730,"v":0.01},{"p":3,"s":"b","w":8800,"v":-0.05},{"p":3,"s":"b","w":8864,"v":-0.12},{"p":3,"s":"b","w":8930,"v":-0.2},{"p":3,"s":"b","w":8999,"v":-0.27},{"p":3,"s":"b","w":9066,"v":-0.22},{"p":3,"s":"b","w":9133,"v":-0.2},{"p":3,"s":"b","w":9200,"v":-0.25},{"p":3,"s":"b","w":9300,"v":-0.3},{"p":3,"s":"b","w":9402,"v":-0.35},{"p":3,"s":"b","w":9500,"v":-0.3},{"p":3,"s":"b","w":9604,"v":-0.3},{"p":3,"s":"b","w":9700,"v":-0.38},{"p":3,"s":"b","w":9806,"v":-0.43},{"p":3,"s":"b","w":9900,"v":-0.42},{"p":3,"s":"b","w":10000,"v":-0.48},
{"p":3,"s":"g","w":3780,"v":-1.5},{"p":3,"s":"g","w":3820,"v":-1.15},{"p":3,"s":"g","w":3845,"v":-0.8},{"p":3,"s":"g","w":3852,"v":0.1},{"p":3,"s":"g","w":3858,"v":0.45},{"p":3,"s":"g","w":3866,"v":-1.0},{"p":3,"s":"g","w":3874,"v":0.5},{"p":3,"s":"g","w":3882,"v":-0.9},{"p":3,"s":"g","w":3890,"v":0.48},{"p":3,"s":"g","w":3900,"v":-0.7},{"p":3,"s":"g","w":3910,"v":0.5},{"p":3,"s":"g","w":3920,"v":-0.5},{"p":3,"s":"g","w":3930,"v":0.45},{"p":3,"s":"g","w":3940,"v":-0.4},{"p":3,"s":"g","w":3950,"v":0.5},{"p":3,"s":"g","w":3962,"v":-0.2},{"p":3,"s":"g","w":3975,"v":0.45},{"p":3,"s":"g","w":3988,"v":-0.1},{"p":3,"s":"g","w":4000,"v":0.4},{"p":3,"s":"g","w":4012,"v":0.0},{"p":3,"s":"g","w":4025,"v":0.45},{"p":3,"s":"g","w":4040,"v":0.05},{"p":3,"s":"g","w":4055,"v":0.42},{"p":3,"s":"g","w":4070,"v":0.1},{"p":3,"s":"g","w":4085,"v":0.3},{"p":3,"s":"g","w":4100,"v":0.0},{"p":3,"s":"g","w":4115,"v":0.28},{"p":3,"s":"g","w":4130,"v":-0.05},{"p":3,"s":"g","w":4145,"v":0.25},{"p":3,"s":"g","w":4160,"v":-0.1},{"p":3,"s":"g","w":4175,"v":0.2},{"p":3,"s":"g","w":4190,"v":-0.15},{"p":3,"s":"g","w":4210,"v":0.15},{"p":3,"s":"g","w":4230,"v":-0.2},{"p":3,"s":"g","w":4250,"v":0.1},{"p":3,"s":"g","w":4270,"v":-0.2},{"p":3,"s":"g","w":4290,"v":0.05},{"p":3,"s":"g","w":4310,"v":-0.15},{"p":3,"s":"g","w":4330,"v":0.02},{"p":3,"s":"g","w":4360,"v":-0.06},{"p":3,"s":"g","w":4400,"v":-0.04},{"p":3,"s":"g","w":4440,"v":-0.15},{"p":3,"s":"g","w":4485,"v":-0.27},{"p":3,"s":"g","w":4520,"v":0.0},{"p":3,"s":"g","w":4586,"v":0.19},{"p":3,"s":"g","w":4687,"v":0.14},{"p":3,"s":"g","w":4788,"v":-0.02},{"p":3,"s":"g","w":4856,"v":-0.3},{"p":3,"s":"g","w":4900,"v":-0.1},{"p":3,"s":"g","w":4956,"v":-0.02},{"p":3,"s":"g","w":5091,"v":0.09},{"p":3,"s":"g","w":5226,"v":0.04},{"p":3,"s":"g","w":5360,"v":0.09},{"p":3,"s":"g","w":5495,"v":0.19},{"p":3,"s":"g","w":5630,"v":0.09},{"p":3,"s":"g","w":5690,"v":0.0},{"p":3,"s":"g","w":5730,"v":-0.09},{"p":3,"s":"g","w":5780,"v":0.05},{"p":3,"s":"g","w":5850,"v":0.16},{"p":3,"s":"g","w":5899,"v":0.19},{"p":3,"s":"g","w":5960,"v":0.12},{"p":3,"s":"g","w":6034,"v":0.06},{"p":3,"s":"g","w":6150,"v":0.02},{"p":3,"s":"g","w":6303,"v":-0.05},{"p":3,"s":"g","w":6440,"v":-0.01},{"p":3,"s":"g","w":6576,"v":0.0},{"p":3,"s":"g","w":6711,"v":-0.03},{"p":3,"s":"g","w":6850,"v":-0.06},{"p":3,"s":"g","w":6980,"v":-0.07},{"p":3,"s":"g","w":7115,"v":-0.04},{"p":3,"s":"g","w":7250,"v":-0.09},{"p":3,"s":"g","w":7384,"v":-0.14},{"p":3,"s":"g","w":7500,"v":-0.2},{"p":3,"s":"g","w":7585,"v":-0.27},{"p":3,"s":"g","w":7700,"v":-0.23},{"p":3,"s":"g","w":7787,"v":-0.22},{"p":3,"s":"g","w":7900,"v":-0.24},{"p":3,"s":"g","w":7990,"v":-0.25},{"p":3,"s":"g","w":8090,"v":-0.4},{"p":3,"s":"g","w":8160,"v":-0.52},{"p":3,"s":"g","w":8225,"v":-0.63},{"p":3,"s":"g","w":8280,"v":-0.74},{"p":3,"s":"g","w":8326,"v":-0.81},{"p":3,"s":"g","w":8380,"v":-0.76},{"p":3,"s":"g","w":8427,"v":-0.68},{"p":3,"s":"g","w":8480,"v":-0.55},{"p":3,"s":"g","w":8528,"v":-0.45},{"p":3,"s":"g","w":8600,"v":-0.34},{"p":3,"s":"g","w":8662,"v":-0.3},{"p":3,"s":"g","w":8730,"v":-0.36},{"p":3,"s":"g","w":8797,"v":-0.4},{"p":3,"s":"g","w":8900,"v":-0.46},{"p":3,"s":"g","w":8999,"v":-0.5},{"p":3,"s":"g","w":9100,"v":-0.49},{"p":3,"s":"g","w":9200,"v":-0.5},{"p":3,"s":"g","w":9300,"v":-0.54},{"p":3,"s":"g","w":9402,"v":-0.58},{"p":3,"s":"g","w":9470,"v":-0.66},{"p":3,"s":"g","w":9537,"v":-0.73},{"p":3,"s":"g","w":9600,"v":-0.72},{"p":3,"s":"g","w":9671,"v":-0.73},{"p":3,"s":"g","w":9740,"v":-0.68},{"p":3,"s":"g","w":9806,"v":-0.63},{"p":3,"s":"g","w":9860,"v":-0.58},{"p":3,"s":"g","w":9907,"v":-0.55},{"p":3,"s":"g","w":9950,"v":-0.62},{"p":3,"s":"g","w":10000,"v":-0.71},
{"p":4,"s":"o","w":3300,"v":-1.13},{"p":4,"s":"o","w":3354,"v":-0.9},{"p":4,"s":"o","w":3400,"v":-0.82},{"p":4,"s":"o","w":3441,"v":-0.77},{"p":4,"s":"o","w":3480,"v":-0.7},{"p":4,"s":"o","w":3509,"v":-0.62},{"p":4,"s":"o","w":3540,"v":-0.68},{"p":4,"s":"o","w":3576,"v":-0.79},{"p":4,"s":"o","w":3610,"v":-1.1},{"p":4,"s":"o","w":3643,"v":-1.4},{"p":4,"s":"o","w":3710,"v":-1.35},{"p":4,"s":"o","w":3745,"v":-1.1},{"p":4,"s":"o","w":3778,"v":-0.9},{"p":4,"s":"o","w":3820,"v":-0.7},{"p":4,"s":"o","w":3865,"v":-0.49},{"p":4,"s":"o","w":3912,"v":-0.23},{"p":4,"s":"o","w":3950,"v":-0.18},{"p":4,"s":"o","w":3980,"v":-0.15},{"p":4,"s":"o","w":4027,"v":-0.05},{"p":4,"s":"o","w":4070,"v":-0.12},{"p":4,"s":"o","w":4115,"v":-0.18},{"p":4,"s":"o","w":4150,"v":-0.15},{"p":4,"s":"o","w":4182,"v":-0.23},{"p":4,"s":"o","w":4230,"v":-0.2},{"p":4,"s":"o","w":4283,"v":-0.28},{"p":4,"s":"o","w":4330,"v":-0.22},{"p":4,"s":"o","w":4384,"v":-0.21},{"p":4,"s":"o","w":4430,"v":-0.25},{"p":4,"s":"o","w":4485,"v":-0.33},{"p":4,"s":"o","w":4520,"v":-0.2},{"p":4,"s":"o","w":4553,"v":-0.1},{"p":4,"s":"o","w":4620,"v":0.05},{"p":4,"s":"o","w":4670,"v":-0.02},{"p":4,"s":"o","w":4721,"v":-0.05},{"p":4,"s":"o","w":4770,"v":0.02},{"p":4,"s":"o","w":4822,"v":0.03},{"p":4,"s":"o","w":4860,"v":-0.05},{"p":4,"s":"o","w":4889,"v":-0.13},{"p":4,"s":"o","w":4920,"v":-0.02},{"p":4,"s":"o","w":4956,"v":0.03},{"p":4,"s":"o","w":5024,"v":0.15},{"p":4,"s":"o","w":5060,"v":-0.05},{"p":4,"s":"o","w":5091,"v":-0.26},{"p":4,"s":"o","w":5120,"v":-0.15},{"p":4,"s":"o","w":5158,"v":-0.08},{"p":4,"s":"o","w":5259,"v":0.05},{"p":4,"s":"o","w":5310,"v":0.08},{"p":4,"s":"o","w":5360,"v":0.13},{"p":4,"s":"o","w":5430,"v":0.11},{"p":4,"s":"o","w":5495,"v":0.1},{"p":4,"s":"o","w":5560,"v":0.07},{"p":4,"s":"o","w":5630,"v":0.05},{"p":4,"s":"o","w":5700,"v":-0.02},{"p":4,"s":"o","w":5764,"v":-0.1},{"p":4,"s":"o","w":5830,"v":-0.08},{"p":4,"s":"o","w":5899,"v":-0.13},{"p":4,"s":"o","w":5960,"v":-0.06},{"p":4,"s":"o","w":6034,"v":-0.03},{"p":4,"s":"o","w":6100,"v":-0.06},{"p":4,"s":"o","w":6168,"v":-0.05},{"p":4,"s":"o","w":6240,"v":-0.03},{"p":4,"s":"o","w":6303,"v":-0.08},{"p":4,"s":"o","w":6370,"v":-0.02},{"p":4,"s":"o","w":6441,"v":-0.03},{"p":4,"s":"o","w":6509,"v":0.03},{"p":4,"s":"o","w":6560,"v":-0.03},{"p":4,"s":"o","w":6610,"v":-0.08},{"p":4,"s":"o","w":6711,"v":-0.13},{"p":4,"s":"o","w":6780,"v":-0.1},{"p":4,"s":"o","w":6845,"v":-0.15},{"p":4,"s":"o","w":6910,"v":-0.12},{"p":4,"s":"o","w":6980,"v":-0.18},{"p":4,"s":"o","w":7050,"v":-0.14},{"p":4,"s":"o","w":7115,"v":-0.13},{"p":4,"s":"o","w":7180,"v":-0.18},{"p":4,"s":"o","w":7249,"v":-0.15},{"p":4,"s":"o","w":7310,"v":-0.12},{"p":4,"s":"o","w":7384,"v":-0.13},{"p":4,"s":"o","w":7450,"v":-0.18},{"p":4,"s":"o","w":7518,"v":-0.21},{"p":4,"s":"o","w":7590,"v":-0.17},{"p":4,"s":"o","w":7653,"v":-0.23},{"p":4,"s":"o","w":7720,"v":-0.2},{"p":4,"s":"o","w":7787,"v":-0.18},{"p":4,"s":"o","w":7850,"v":-0.22},{"p":4,"s":"o","w":7922,"v":-0.26},{"p":4,"s":"o","w":7990,"v":-0.32},{"p":4,"s":"o","w":8057,"v":-0.41},{"p":4,"s":"o","w":8110,"v":-0.52},{"p":4,"s":"o","w":8158,"v":-0.64},{"p":4,"s":"o","w":8210,"v":-0.8},{"p":4,"s":"o","w":8258,"v":-0.9},{"p":4,"s":"o","w":8300,"v":-0.86},{"p":4,"s":"o","w":8359,"v":-0.74},{"p":4,"s":"o","w":8410,"v":-0.58},{"p":4,"s":"o","w":8461,"v":-0.44},{"p":4,"s":"o","w":8510,"v":-0.32},{"p":4,"s":"o","w":8562,"v":-0.23},{"p":4,"s":"o","w":8610,"v":-0.17},{"p":4,"s":"o","w":8662,"v":-0.13},{"p":4,"s":"o","w":8710,"v":-0.2},{"p":4,"s":"o","w":8764,"v":-0.28},{"p":4,"s":"o","w":8810,"v":-0.34},{"p":4,"s":"o","w":8864,"v":-0.41},{"p":4,"s":"o","w":8910,"v":-0.36},{"p":4,"s":"o","w":8966,"v":-0.31},{"p":4,"s":"o","w":9020,"v":-0.26},{"p":4,"s":"o","w":9066,"v":-0.23},{"p":4,"s":"o","w":9120,"v":-0.3},{"p":4,"s":"o","w":9167,"v":-0.33},{"p":4,"s":"o","w":9220,"v":-0.27},{"p":4,"s":"o","w":9267,"v":-0.23},{"p":4,"s":"o","w":9330,"v":-0.31},{"p":4,"s":"o","w":9402,"v":-0.36},{"p":4,"s":"o","w":9470,"v":-0.35},{"p":4,"s":"o","w":9537,"v":-0.36},{"p":4,"s":"o","w":9590,"v":-0.3},{"p":4,"s":"o","w":9638,"v":-0.28},{"p":4,"s":"o","w":9690,"v":-0.42},{"p":4,"s":"o","w":9739,"v":-0.54},{"p":4,"s":"o","w":9790,"v":-0.5},{"p":4,"s":"o","w":9840,"v":-0.49},{"p":4,"s":"o","w":9920,"v":-0.52},{"p":4,"s":"o","w":10000,"v":-0.56},
{"p":4,"s":"b","w":3300,"v":-1.4},{"p":4,"s":"b","w":3400,"v":-1.25},{"p":4,"s":"b","w":3475,"v":-1.18},{"p":4,"s":"b","w":3530,"v":-1.3},{"p":4,"s":"b","w":3560,"v":-1.45},{"p":4,"s":"b","w":3830,"v":-1.45},{"p":4,"s":"b","w":3865,"v":-0.85},{"p":4,"s":"b","w":3900,"v":-0.6},{"p":4,"s":"b","w":3933,"v":-0.44},{"p":4,"s":"b","w":3980,"v":-0.32},{"p":4,"s":"b","w":4027,"v":-0.23},{"p":4,"s":"b","w":4070,"v":-0.28},{"p":4,"s":"b","w":4115,"v":-0.31},{"p":4,"s":"b","w":4160,"v":-0.38},{"p":4,"s":"b","w":4216,"v":-0.51},{"p":4,"s":"b","w":4250,"v":-0.42},{"p":4,"s":"b","w":4283,"v":-0.38},{"p":4,"s":"b","w":4350,"v":-0.34},{"p":4,"s":"b","w":4418,"v":-0.36},{"p":4,"s":"b","w":4485,"v":-0.3},{"p":4,"s":"b","w":4553,"v":-0.13},{"p":4,"s":"b","w":4620,"v":0.03},{"p":4,"s":"b","w":4670,"v":-0.04},{"p":4,"s":"b","w":4721,"v":-0.07},{"p":4,"s":"b","w":4770,"v":0.0},{"p":4,"s":"b","w":4822,"v":0.01},{"p":4,"s":"b","w":4860,"v":-0.08},{"p":4,"s":"b","w":4889,"v":-0.15},{"p":4,"s":"b","w":4920,"v":-0.04},{"p":4,"s":"b","w":4956,"v":0.01},{"p":4,"s":"b","w":5024,"v":0.12},{"p":4,"s":"b","w":5060,"v":-0.06},{"p":4,"s":"b","w":5091,"v":-0.25},{"p":4,"s":"b","w":5120,"v":-0.15},{"p":4,"s":"b","w":5158,"v":-0.08},{"p":4,"s":"b","w":5259,"v":0.06},{"p":4,"s":"b","w":5310,"v":0.09},{"p":4,"s":"b","w":5360,"v":0.14},{"p":4,"s":"b","w":5430,"v":0.12},{"p":4,"s":"b","w":5495,"v":0.11},{"p":4,"s":"b","w":5560,"v":0.09},{"p":4,"s":"b","w":5630,"v":0.06},{"p":4,"s":"b","w":5700,"v":0.0},{"p":4,"s":"b","w":5764,"v":-0.08},{"p":4,"s":"b","w":5830,"v":-0.05},{"p":4,"s":"b","w":5899,"v":-0.1},{"p":4,"s":"b","w":5960,"v":-0.04},{"p":4,"s":"b","w":6034,"v":0.0},{"p":4,"s":"b","w":6100,"v":-0.03},{"p":4,"s":"b","w":6168,"v":-0.02},{"p":4,"s":"b","w":6240,"v":0.0},{"p":4,"s":"b","w":6303,"v":-0.05},{"p":4,"s":"b","w":6370,"v":0.0},{"p":4,"s":"b","w":6441,"v":-0.02},{"p":4,"s":"b","w":6509,"v":0.03},{"p":4,"s":"b","w":6560,"v":-0.02},{"p":4,"s":"b","w":6610,"v":-0.06},{"p":4,"s":"b","w":6711,"v":-0.11},{"p":4,"s":"b","w":6780,"v":-0.09},{"p":4,"s":"b","w":6845,"v":-0.13},{"p":4,"s":"b","w":6910,"v":-0.1},{"p":4,"s":"b","w":6980,"v":-0.16},{"p":4,"s":"b","w":7050,"v":-0.12},{"p":4,"s":"b","w":7115,"v":-0.11},{"p":4,"s":"b","w":7180,"v":-0.15},{"p":4,"s":"b","w":7249,"v":-0.12},{"p":4,"s":"b","w":7310,"v":-0.09},{"p":4,"s":"b","w":7384,"v":-0.11},{"p":4,"s":"b","w":7450,"v":-0.15},{"p":4,"s":"b","w":7518,"v":-0.17},{"p":4,"s":"b","w":7590,"v":-0.14},{"p":4,"s":"b","w":7653,"v":-0.2},{"p":4,"s":"b","w":7720,"v":-0.16},{"p":4,"s":"b","w":7787,"v":-0.14},{"p":4,"s":"b","w":7850,"v":-0.18},{"p":4,"s":"b","w":7922,"v":-0.23},{"p":4,"s":"b","w":7990,"v":-0.27},{"p":4,"s":"b","w":8057,"v":-0.33},{"p":4,"s":"b","w":8140,"v":-0.45},{"p":4,"s":"b","w":8225,"v":-0.59},{"p":4,"s":"b","w":8270,"v":-0.52},{"p":4,"s":"b","w":8326,"v":-0.44},{"p":4,"s":"b","w":8400,"v":-0.28},{"p":4,"s":"b","w":8461,"v":-0.15},{"p":4,"s":"b","w":8530,"v":-0.02},{"p":4,"s":"b","w":8595,"v":0.07},{"p":4,"s":"b","w":8660,"v":0.05},{"p":4,"s":"b","w":8730,"v":0.0},{"p":4,"s":"b","w":8800,"v":-0.1},{"p":4,"s":"b","w":8864,"v":-0.18},{"p":4,"s":"b","w":8930,"v":-0.22},{"p":4,"s":"b","w":8999,"v":-0.28},{"p":4,"s":"b","w":9066,"v":-0.25},{"p":4,"s":"b","w":9133,"v":-0.3},{"p":4,"s":"b","w":9200,"v":-0.31},{"p":4,"s":"b","w":9300,"v":-0.3},{"p":4,"s":"b","w":9402,"v":-0.33},{"p":4,"s":"b","w":9500,"v":-0.32},{"p":4,"s":"b","w":9604,"v":-0.33},{"p":4,"s":"b","w":9690,"v":-0.4},{"p":4,"s":"b","w":9772,"v":-0.46},{"p":4,"s":"b","w":9820,"v":-0.42},{"p":4,"s":"b","w":9873,"v":-0.41},{"p":4,"s":"b","w":9940,"v":-0.44},{"p":4,"s":"b","w":10000,"v":-0.51},
{"p":4,"s":"g","w":3300,"v":-1.05},{"p":4,"s":"g","w":3340,"v":-0.9},{"p":4,"s":"g","w":3370,"v":-0.8},{"p":4,"s":"g","w":3400,"v":-0.92},{"p":4,"s":"g","w":3441,"v":-0.99},{"p":4,"s":"g","w":3480,"v":-0.8},{"p":4,"s":"g","w":3510,"v":-0.7},{"p":4,"s":"g","w":3542,"v":-0.64},{"p":4,"s":"g","w":3575,"v":-0.55},{"p":4,"s":"g","w":3610,"v":-0.49},{"p":4,"s":"g","w":3635,"v":-0.6},{"p":4,"s":"g","w":3657,"v":-0.79},{"p":4,"s":"g","w":3685,"v":-0.7},{"p":4,"s":"g","w":3710,"v":-0.59},{"p":4,"s":"g","w":3740,"v":-0.68},{"p":4,"s":"g","w":3764,"v":-0.79},{"p":4,"s":"g","w":3790,"v":-0.9},{"p":4,"s":"g","w":3812,"v":-1.0},{"p":4,"s":"g","w":3845,"v":-0.6},{"p":4,"s":"g","w":3879,"v":-0.33},{"p":4,"s":"g","w":3946,"v":-0.18},{"p":4,"s":"g","w":4014,"v":-0.1},{"p":4,"s":"g","w":4115,"v":-0.08},{"p":4,"s":"g","w":4170,"v":-0.15},{"p":4,"s":"g","w":4216,"v":-0.26},{"p":4,"s":"g","w":4260,"v":-0.2},{"p":4,"s":"g","w":4317,"v":-0.15},{"p":4,"s":"g","w":4370,"v":-0.3},{"p":4,"s":"g","w":4418,"v":-0.54},{"p":4,"s":"g","w":4450,"v":-0.4},{"p":4,"s":"g","w":4485,"v":-0.23},{"p":4,"s":"g","w":4540,"v":-0.05},{"p":4,"s":"g","w":4586,"v":0.05},{"p":4,"s":"g","w":4687,"v":0.03},{"p":4,"s":"g","w":4788,"v":0.0},{"p":4,"s":"g","w":4840,"v":-0.15},{"p":4,"s":"g","w":4870,"v":-0.35},{"p":4,"s":"g","w":4902,"v":-0.51},{"p":4,"s":"g","w":4940,"v":-0.25},{"p":4,"s":"g","w":4990,"v":0.03},{"p":4,"s":"g","w":5091,"v":0.13},{"p":4,"s":"g","w":5160,"v":0.08},{"p":4,"s":"g","w":5226,"v":0.05},{"p":4,"s":"g","w":5300,"v":0.1},{"p":4,"s":"g","w":5360,"v":0.13},{"p":4,"s":"g","w":5460,"v":0.08},{"p":4,"s":"g","w":5562,"v":0.05},{"p":4,"s":"g","w":5630,"v":0.0},{"p":4,"s":"g","w":5663,"v":-0.08},{"p":4,"s":"g","w":5710,"v":-0.35},{"p":4,"s":"g","w":5750,"v":-0.54},{"p":4,"s":"g","w":5790,"v":-0.3},{"p":4,"s":"g","w":5832,"v":-0.03},{"p":4,"s":"g","w":5880,"v":0.18},{"p":4,"s":"g","w":5933,"v":0.28},{"p":4,"s":"g","w":5980,"v":0.26},{"p":4,"s":"g","w":6034,"v":0.21},{"p":4,"s":"g","w":6100,"v":0.12},{"p":4,"s":"g","w":6168,"v":0.05},{"p":4,"s":"g","w":6240,"v":-0.02},{"p":4,"s":"g","w":6303,"v":-0.05},{"p":4,"s":"g","w":6400,"v":-0.08},{"p":4,"s":"g","w":6509,"v":-0.13},{"p":4,"s":"g","w":6545,"v":-0.25},{"p":4,"s":"g","w":6576,"v":-0.33},{"p":4,"s":"g","w":6620,"v":-0.15},{"p":4,"s":"g","w":6677,"v":0.03},{"p":4,"s":"g","w":6778,"v":0.1},{"p":4,"s":"g","w":6879,"v":0.0},{"p":4,"s":"g","w":6980,"v":-0.08},{"p":4,"s":"g","w":7030,"v":0.05},{"p":4,"s":"g","w":7080,"v":0.13},{"p":4,"s":"g","w":7130,"v":0.08},{"p":4,"s":"g","w":7182,"v":0.05},{"p":4,"s":"g","w":7280,"v":0.06},{"p":4,"s":"g","w":7384,"v":0.05},{"p":4,"s":"g","w":7450,"v":0.02},{"p":4,"s":"g","w":7518,"v":-0.03},{"p":4,"s":"g","w":7580,"v":-0.05},{"p":4,"s":"g","w":7653,"v":-0.08},{"p":4,"s":"g","w":7740,"v":-0.07},{"p":4,"s":"g","w":7821,"v":-0.08},{"p":4,"s":"g","w":7900,"v":-0.12},{"p":4,"s":"g","w":7990,"v":-0.1},{"p":4,"s":"g","w":8060,"v":-0.16},{"p":4,"s":"g","w":8124,"v":-0.18},{"p":4,"s":"g","w":8190,"v":-0.2},{"p":4,"s":"g","w":8258,"v":-0.23},{"p":4,"s":"g","w":8326,"v":-0.31},{"p":4,"s":"g","w":8380,"v":-0.45},{"p":4,"s":"g","w":8427,"v":-0.54},{"p":4,"s":"g","w":8480,"v":-0.45},{"p":4,"s":"g","w":8528,"v":-0.33},{"p":4,"s":"g","w":8580,"v":-0.2},{"p":4,"s":"g","w":8629,"v":-0.1},{"p":4,"s":"g","w":8680,"v":-0.16},{"p":4,"s":"g","w":8730,"v":-0.21},{"p":4,"s":"g","w":8800,"v":-0.27},{"p":4,"s":"g","w":8864,"v":-0.31},{"p":4,"s":"g","w":8930,"v":-0.35},{"p":4,"s":"g","w":8999,"v":-0.33},{"p":4,"s":"g","w":9060,"v":-0.45},{"p":4,"s":"g","w":9133,"v":-0.54},{"p":4,"s":"g","w":9200,"v":-0.47},{"p":4,"s":"g","w":9267,"v":-0.44},{"p":4,"s":"g","w":9330,"v":-0.55},{"p":4,"s":"g","w":9402,"v":-0.59},{"p":4,"s":"g","w":9470,"v":-0.66},{"p":4,"s":"g","w":9537,"v":-0.69},{"p":4,"s":"g","w":9570,"v":-0.74},{"p":4,"s":"g","w":9604,"v":-0.77}
]},
"data":{"name":"spec"},
"spacing":6,
"bounds":"flush",
"resolve":{"scale":{"color":"independent","strokeWidth":"independent"},"legend":{"color":"independent","strokeWidth":"independent"}},
"vconcat":[
{"width":332,"height":117,
 "encoding":{
  "x":{"field":"w","type":"quantitative","scale":{"domain":[3300,10000],"nice":false,"zero":false},"axis":{"orient":"top","values":[4000,5000,6000,7000,8000,9000,10000],"labels":false,"title":null,"tickSize":3,"domainColor":"#000","tickColor":"#000"}},
  "y":{"field":"v","type":"quantitative","scale":{"domain":[-1.3,1.15],"nice":false,"zero":false},"axis":{"orient":"left","values":[-1,0,1],"labelExpr":"replace(format(datum.value,'d'),'-','\u2212')","title":null,"tickSize":4,"domainColor":"#999","domainWidth":1.5,"tickColor":"#555","labelPadding":3}},
  "color":{"field":"s","type":"nominal","scale":{"domain":["g","o","b"],"range":["#aaaaaa","#ffa500","#000000"]},"legend":{"title":null,"orient":"none","legendX":1,"legendY":2,"columns":2,"direction":"horizontal","symbolType":"stroke","symbolSize":196,"labelFontSize":10,"labelFont":"Liberation Serif","labelColor":"#444","fillColor":"#f0f0f0","padding":2,"columnPadding":10,"rowPadding":-3,"labelOffset":6,"labelLimit":400,"labelExpr":"datum.value=='g'?'SN2007Y':datum.value=='o'?'He3.40 (MNi = 0.025 M\u2299), \u03b5Ca = 0':'He3.40 (MNi = 0.025 M\u2299)'"}},
  "strokeWidth":{"field":"s","type":"nominal","scale":{"type":"ordinal","domain":["g","o","b"],"range":[4,1.5,1.3]},"legend":{"title":null,"orient":"none","legendX":1,"legendY":2,"columns":2,"direction":"horizontal","symbolType":"stroke","symbolSize":196,"labelFontSize":10,"labelFont":"Liberation Serif","labelColor":"#444","fillColor":"#f0f0f0","padding":2,"columnPadding":10,"rowPadding":-3,"labelOffset":6,"labelLimit":400,"labelExpr":"datum.value=='g'?'SN2007Y':datum.value=='o'?'He3.40 (MNi = 0.025 M\u2299), \u03b5Ca = 0':'He3.40 (MNi = 0.025 M\u2299)'"}}
 },
 "layer":[
  {"layer":[
   {"transform":[{"filter":"datum.p==1 && datum.s=='g'"}],"mark":{"type":"line","clip":true}},
   {"transform":[{"filter":"datum.p==1 && datum.s=='b'"}],"mark":{"type":"line","clip":true}},
   {"transform":[{"filter":"datum.p==1 && datum.s=='o'"}],"mark":{"type":"line","clip":true}}
  ]},
  {"data":{"name":"labels"},"transform":[{"filter":"datum.p==1"}],"mark":{"type":"text","align":"left","baseline":"middle","fontSize":13},
   "encoding":{"text":{"field":"t"},"color":{"value":"#111"},"strokeWidth":{"value":0},
    "y":{"field":"v","type":"quantitative","scale":{"domain":[-1.3,1.15],"nice":false,"zero":false},"axis":{"orient":"right","values":[-1,0,1],"labels":false,"title":null,"tickSize":4,"domainColor":"#999","domainWidth":1.5,"tickColor":"#555"}}}}
 ],
 "resolve":{"axis":{"y":"independent"}}
},
{"width":332,"height":116,
 "encoding":{
  "x":{"field":"w","type":"quantitative","scale":{"domain":[3300,10000],"nice":false,"zero":false},"axis":null},
  "y":{"field":"v","type":"quantitative","scale":{"domain":[-1.3,0.5],"nice":false,"zero":false},"axis":{"orient":"left","values":[-1,-0.5,0,0.5],"labelExpr":"replace(format(datum.value,'.1f'),'-','\u2212')","title":null,"tickSize":4,"domainColor":"#999","domainWidth":1.5,"tickColor":"#555","labelPadding":3}},
  "color":{"field":"s","type":"nominal","scale":{"domain":["g","o","b"],"range":["#aaaaaa","#ffa500","#000000"]},"legend":null},
  "strokeWidth":{"field":"s","type":"nominal","scale":{"type":"ordinal","domain":["g","o","b"],"range":[4,1.5,1.3]},"legend":null}
 },
 "layer":[
  {"layer":[
   {"transform":[{"filter":"datum.p==2 && datum.s=='g'"}],"mark":{"type":"line","clip":true}},
   {"transform":[{"filter":"datum.p==2 && datum.s=='b'"}],"mark":{"type":"line","clip":true}},
   {"transform":[{"filter":"datum.p==2 && datum.s=='o'"}],"mark":{"type":"line","clip":true}}
  ]},
  {"data":{"name":"labels"},"transform":[{"filter":"datum.p==2"}],"mark":{"type":"text","align":"left","baseline":"middle","fontSize":13},
   "encoding":{"text":{"field":"t"},"color":{"value":"#111"},"strokeWidth":{"value":0},
    "y":{"field":"v","type":"quantitative","scale":{"domain":[-1.3,0.5],"nice":false,"zero":false},"axis":{"orient":"right","values":[-1,-0.5,0,0.5],"labels":false,"title":null,"tickSize":4,"domainColor":"#999","domainWidth":1.5,"tickColor":"#555"}}}}
 ],
 "resolve":{"axis":{"y":"independent"}}
},
{"width":332,"height":116,
 "encoding":{
  "x":{"field":"w","type":"quantitative","scale":{"domain":[3300,10000],"nice":false,"zero":false},"axis":null},
  "y":{"field":"v","type":"quantitative","scale":{"domain":[-1.3,0.5],"nice":false,"zero":false},"axis":{"orient":"left","values":[-1,-0.5,0,0.5],"labelExpr":"replace(format(datum.value,'.1f'),'-','\u2212')","title":"Normalized Log Intensity","titleY":-3,"titlePadding":6,"tickSize":4,"domainColor":"#999","domainWidth":1.5,"tickColor":"#555","labelPadding":3}},
  "color":{"field":"s","type":"nominal","scale":{"domain":["g","o","b"],"range":["#aaaaaa","#ffa500","#000000"]},"legend":null},
  "strokeWidth":{"field":"s","type":"nominal","scale":{"type":"ordinal","domain":["g","o","b"],"range":[4,1.5,1.3]},"legend":null}
 },
 "layer":[
  {"layer":[
   {"transform":[{"filter":"datum.p==3 && datum.s=='g'"}],"mark":{"type":"line","clip":true}},
   {"transform":[{"filter":"datum.p==3 && datum.s=='b'"}],"mark":{"type":"line","clip":true}},
   {"transform":[{"filter":"datum.p==3 && datum.s=='o'"}],"mark":{"type":"line","clip":true}}
  ]},
  {"data":{"name":"labels"},"transform":[{"filter":"datum.p==3"}],"mark":{"type":"text","align":"left","baseline":"middle","fontSize":13},
   "encoding":{"text":{"field":"t"},"color":{"value":"#111"},"strokeWidth":{"value":0},
    "y":{"field":"v","type":"quantitative","scale":{"domain":[-1.3,0.5],"nice":false,"zero":false},"axis":{"orient":"right","values":[-1,-0.5,0,0.5],"labels":false,"title":null,"tickSize":4,"domainColor":"#999","domainWidth":1.5,"tickColor":"#555"}}}}
 ],
 "resolve":{"axis":{"y":"independent"}}
},
{"width":332,"height":116,
 "encoding":{
  "x":{"field":"w","type":"quantitative","scale":{"domain":[3300,10000],"nice":false,"zero":false},"axis":{"orient":"bottom","values":[4000,5000,6000,7000,8000,9000,10000],"format":"d","title":"Wavelength [Å]","tickSize":4,"domainColor":"#000","tickColor":"#000","labelPadding":2,"titlePadding":4}},
  "y":{"field":"v","type":"quantitative","scale":{"domain":[-1.3,0.5],"nice":false,"zero":false},"axis":{"orient":"left","values":[-1,-0.5,0,0.5],"labelExpr":"replace(format(datum.value,'.1f'),'-','\u2212')","title":null,"tickSize":4,"domainColor":"#999","domainWidth":1.5,"tickColor":"#555","labelPadding":3}},
  "color":{"field":"s","type":"nominal","scale":{"domain":["g","o","b"],"range":["#aaaaaa","#ffa500","#000000"]},"legend":null},
  "strokeWidth":{"field":"s","type":"nominal","scale":{"type":"ordinal","domain":["g","o","b"],"range":[4,1.5,1.3]},"legend":null}
 },
 "layer":[
  {"layer":[
   {"transform":[{"filter":"datum.p==4 && datum.s=='g'"}],"mark":{"type":"line","clip":true}},
   {"transform":[{"filter":"datum.p==4 && datum.s=='b'"}],"mark":{"type":"line","clip":true}},
   {"transform":[{"filter":"datum.p==4 && datum.s=='o'"}],"mark":{"type":"line","clip":true}}
  ]},
  {"data":{"name":"labels"},"transform":[{"filter":"datum.p==4"}],"mark":{"type":"text","align":"left","baseline":"middle","fontSize":13},
   "encoding":{"text":{"field":"t"},"color":{"value":"#111"},"strokeWidth":{"value":0},
    "y":{"field":"v","type":"quantitative","scale":{"domain":[-1.3,0.5],"nice":false,"zero":false},"axis":{"orient":"right","values":[-1,-0.5,0,0.5],"labels":false,"title":null,"tickSize":4,"domainColor":"#999","domainWidth":1.5,"tickColor":"#555"}}}}
 ],
 "resolve":{"axis":{"y":"independent"}}
}
]
}
